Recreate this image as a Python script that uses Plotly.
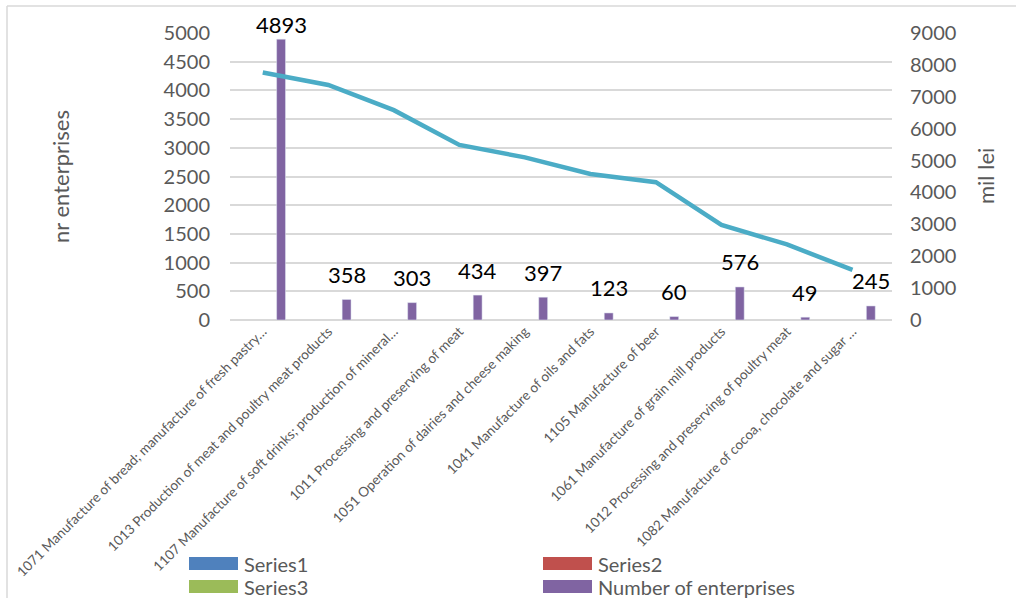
import plotly.graph_objects as go

categories = [
    "1071 Manufacture of bread; manufacture of fresh pastry…",
    "1013 Production of meat and poultry meat products",
    "1107 Manufacture of soft drinks; production of mineral…",
    "1011 Processing and preserving of meat",
    "1051 Operation of dairies and cheese making",
    "1041 Manufacture of oils and fats",
    "1105 Manufacture of beer",
    "1061 Manufacture of grain mill products",
    "1012 Processing and preserving of poultry meat",
    "1082 Manufacture of cocoa, chocolate and sugar …",
]
series1 = [None] * 10
series2 = [None] * 10
series3 = [None] * 10
enterprises = [4893, 358, 303, 434, 397, 123, 60, 576, 49, 245]
turnover_mil_lei = [7760, 7370, 6580, 5490, 5100, 4580, 4320, 2980, 2370, 1570]

legend_names = ["Series1", "Series2", "Series3", "Number of enterprises"]
legend_colors = ["#4F81BD", "#C0504D", "#9BBB59", "#8064A2"]

FONT = "Lato"
GRAY = "#595959"
GRID = "#D9D9D9"

L, R, T, B = 230, 124, 33, 278
W, H = 1016, 598
pw, ph = W - L - R, H - T - B

def px(x):
    return (x - L) / pw

def py(y):
    return (H - B - y) / ph

fig = go.Figure()
for nm, col, vals in zip(legend_names[:3], legend_colors[:3], [series1, series2, series3]):
    fig.add_trace(go.Bar(x=categories, y=vals, name=nm, marker_color=col, showlegend=False))
fig.add_trace(go.Bar(x=categories, y=enterprises, name="Number of enterprises",
                     marker_color=legend_colors[3], showlegend=False))
fig.add_trace(go.Scatter(x=categories, y=turnover_mil_lei, yaxis="y2", mode="lines",
                         line=dict(color="#4BACC6", width=4.5), showlegend=False))

shapes = [
    dict(type="line", xref="paper", yref="paper", x0=px(7), x1=px(7), y0=py(6), y1=py(620),
         line=dict(color=GRID, width=1.5)),
    dict(type="line", xref="paper", yref="paper", x0=px(7), x1=px(1030), y0=py(6), y1=py(6),
         line=dict(color=GRID, width=1.5)),
]
annotations = [
    dict(text="nr enterprises", x=px(60), y=py(176), xref="paper", yref="paper",
         xanchor="center", yanchor="middle",
         textangle=-90, showarrow=False, font=dict(size=22, color=GRAY, family=FONT)),
    dict(text="mil lei", x=px(985), y=py(176), xref="paper", yref="paper",
         xanchor="center", yanchor="middle",
         textangle=-90, showarrow=False, font=dict(size=22, color=GRAY, family=FONT)),
]
# data labels above the purple bars
for i, (c, v) in enumerate(zip(categories, enterprises)):
    annotations.append(dict(text=str(v), x=c, y=v, xref="x", yref="y",
                            xanchor="center", yanchor="middle", showarrow=False,
                            xshift=18.5, yshift=15 if v > 4500 else 25,
                            font=dict(size=22, color="#000000", family=FONT)))
# legend drawn as swatches + text (2 columns)
col_x = [189, 543]
row_y = [557, 580]
for i, (nm, col) in enumerate(zip(legend_names, legend_colors)):
    cx = col_x[i % 2]
    ry = row_y[i // 2]
    shapes.append(dict(type="rect", xref="paper", yref="paper",
                       x0=px(cx), x1=px(cx + 49), y0=py(ry + 13), y1=py(ry),
                       fillcolor=col, line=dict(width=0)))
    annotations.append(dict(text=nm, x=px(cx + 53), y=py(ry + 6.5), xref="paper", yref="paper",
                            xanchor="left", yanchor="middle", showarrow=False,
                            font=dict(size=20, color=GRAY, family=FONT)))

fig.update_layout(
    width=W, height=H,
    margin=dict(l=L, r=R, t=T, b=B),
    paper_bgcolor="white", plot_bgcolor="white",
    barmode="group", bargap=0.255, bargroupgap=0.27,
    showlegend=False,
    font=dict(family=FONT, color=GRAY),
    xaxis=dict(tickangle=-45, tickfont=dict(size=13.6, color=GRAY, family=FONT),
               showgrid=False, showline=False, ticks="", automargin=False),
    yaxis=dict(range=[0, 5000], dtick=500, gridcolor=GRID, gridwidth=1.5,
               zeroline=True, zerolinecolor=GRID, zerolinewidth=1.5,
               tickfont=dict(size=20, color=GRAY, family=FONT),
               ticklabelstandoff=19, automargin=False),
    yaxis2=dict(range=[0, 9000], dtick=1000, overlaying="y", side="right",
                showgrid=False, zeroline=False,
                tickfont=dict(size=20, color=GRAY, family=FONT),
                ticklabelstandoff=17, automargin=False),
    annotations=annotations,
    shapes=shapes,
)

fig.write_html("out.html")
